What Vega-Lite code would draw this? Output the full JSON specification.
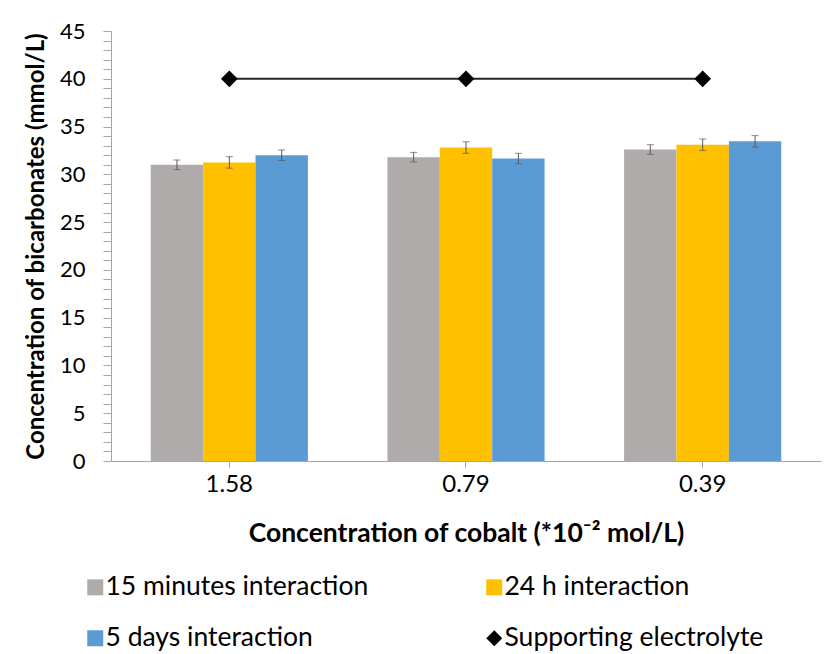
{
  "$schema": "https://vega.github.io/schema/vega-lite/v6.json",
  "width": 710,
  "height": 430,
  "autosize": {"type": "none"},
  "padding": {"left": 111, "top": 31, "right": 18, "bottom": 193},
  "background": "white",
  "config": {"view": {"stroke": null}, "font": "Lato"},
  "datasets": {
    "bars": [
      {"conc": "1.58", "series": "15 minutes interaction", "value": 31.0, "lo": 30.5, "hi": 31.5},
      {"conc": "1.58", "series": "24 h interaction", "value": 31.25, "lo": 30.65, "hi": 31.85},
      {"conc": "1.58", "series": "5 days interaction", "value": 32.0, "lo": 31.45, "hi": 32.55},
      {"conc": "0.79", "series": "15 minutes interaction", "value": 31.8, "lo": 31.3, "hi": 32.3},
      {"conc": "0.79", "series": "24 h interaction", "value": 32.8, "lo": 32.2, "hi": 33.4},
      {"conc": "0.79", "series": "5 days interaction", "value": 31.65, "lo": 31.1, "hi": 32.2},
      {"conc": "0.39", "series": "15 minutes interaction", "value": 32.6, "lo": 32.1, "hi": 33.1},
      {"conc": "0.39", "series": "24 h interaction", "value": 33.1, "lo": 32.5, "hi": 33.7},
      {"conc": "0.39", "series": "5 days interaction", "value": 33.45, "lo": 32.85, "hi": 34.05}
    ],
    "electrolyte": [
      {"conc": "1.58", "series": "Supporting electrolyte", "value": 40},
      {"conc": "0.79", "series": "Supporting electrolyte", "value": 40},
      {"conc": "0.39", "series": "Supporting electrolyte", "value": 40}
    ]
  },
  "encoding": {
    "x": {
      "field": "conc",
      "type": "nominal",
      "sort": ["1.58", "0.79", "0.39"],
      "scale": {"paddingInner": 0.336, "paddingOuter": 0.168},
      "axis": {
        "title": "Concentration of cobalt (*10⁻² mol/L)",
        "titleFont": "Lato",
        "titleFontSize": 26.5,
        "titleFontWeight": "bold",
        "titleColor": "#000000",
        "titlePadding": 24,
        "labelAngle": 0,
        "labelFont": "Lato",
        "labelFontSize": 24,
        "labelColor": "#000000",
        "labelPadding": 5,
        "tickSize": 6,
        "tickColor": "#A6A6A6",
        "domainColor": "#A6A6A6",
        "grid": false
      }
    }
  },
  "layer": [
    {
      "data": {"name": "bars"},
      "mark": {"type": "bar"},
      "encoding": {
        "xOffset": {
          "field": "series",
          "type": "nominal",
          "sort": ["15 minutes interaction", "24 h interaction", "5 days interaction"],
          "scale": {"domain": ["15 minutes interaction", "24 h interaction", "5 days interaction"], "paddingInner": 0, "paddingOuter": 0}
        },
        "y": {
          "field": "value",
          "type": "quantitative",
          "scale": {"domain": [0, 45], "nice": false},
          "axis": {
            "values": [0,1,2,3,4,5,6,7,8,9,10,11,12,13,14,15,16,17,18,19,20,21,22,23,24,25,26,27,28,29,30,31,32,33,34,35,36,37,38,39,40,41,42,43,44,45],
            "labelExpr": "datum.value % 5 === 0 ? datum.label : ''",
            "title": "Concentration of bicarbonates (mmol/L)",
            "titleFont": "Lato",
            "titleFontSize": 24,
            "titleFontWeight": "bold",
            "titleColor": "#000000",
            "titlePadding": 11,
            "labelFont": "Lato",
            "labelFontSize": 22,
            "labelColor": "#000000",
            "labelPadding": 18,
            "labelOverlap": false,
            "tickSize": 8,
            "tickColor": "#A6A6A6",
            "domainColor": "#A6A6A6",
            "grid": false
          }
        },
        "color": {
          "field": "series",
          "type": "nominal",
          "scale": {
            "domain": ["15 minutes interaction", "24 h interaction", "5 days interaction", "Supporting electrolyte"],
            "range": ["#AFABAB", "#FFC000", "#5B9BD5", "#000000"]
          },
          "legend": {
            "title": null,
            "orient": "none",
            "direction": "horizontal",
            "legendX": -29,
            "legendY": 543,
            "columns": 2,
            "columnPadding": 112,
            "rowPadding": 24,
            "symbolSize": 256,
            "symbolStrokeWidth": 0,
            "labelFont": "Lato",
            "labelFontSize": 26.5,
            "labelColor": "#000000",
            "labelOffset": -3,
            "labelLimit": 400
          }
        }
      }
    },
    {
      "data": {"name": "bars"},
      "mark": {"type": "rule", "color": "#595959", "strokeWidth": 1},
      "encoding": {
        "xOffset": {"field": "series", "type": "nominal"},
        "y": {
          "field": "lo",
          "type": "quantitative",
          "axis": {
            "values": [0,1,2,3,4,5,6,7,8,9,10,11,12,13,14,15,16,17,18,19,20,21,22,23,24,25,26,27,28,29,30,31,32,33,34,35,36,37,38,39,40,41,42,43,44,45],
            "labelExpr": "datum.value % 5 === 0 ? datum.label : ''",
            "title": "Concentration of bicarbonates (mmol/L)",
            "titleFont": "Lato",
            "titleFontSize": 24,
            "titleFontWeight": "bold",
            "titleColor": "#000000",
            "titlePadding": 11,
            "labelFont": "Lato",
            "labelFontSize": 22,
            "labelColor": "#000000",
            "labelPadding": 18,
            "labelOverlap": false,
            "tickSize": 8,
            "tickColor": "#A6A6A6",
            "domainColor": "#A6A6A6",
            "grid": false
          }
        },
        "y2": {"field": "hi"}
      }
    },
    {
      "data": {"name": "bars"},
      "mark": {"type": "tick", "color": "#595959", "size": 7, "thickness": 1},
      "encoding": {
        "xOffset": {"field": "series", "type": "nominal"},
        "y": {
          "field": "lo",
          "type": "quantitative",
          "axis": {
            "values": [0,1,2,3,4,5,6,7,8,9,10,11,12,13,14,15,16,17,18,19,20,21,22,23,24,25,26,27,28,29,30,31,32,33,34,35,36,37,38,39,40,41,42,43,44,45],
            "labelExpr": "datum.value % 5 === 0 ? datum.label : ''",
            "title": "Concentration of bicarbonates (mmol/L)",
            "titleFont": "Lato",
            "titleFontSize": 24,
            "titleFontWeight": "bold",
            "titleColor": "#000000",
            "titlePadding": 11,
            "labelFont": "Lato",
            "labelFontSize": 22,
            "labelColor": "#000000",
            "labelPadding": 18,
            "labelOverlap": false,
            "tickSize": 8,
            "tickColor": "#A6A6A6",
            "domainColor": "#A6A6A6",
            "grid": false
          }
        }
      }
    },
    {
      "data": {"name": "bars"},
      "mark": {"type": "tick", "color": "#595959", "size": 7, "thickness": 1},
      "encoding": {
        "xOffset": {"field": "series", "type": "nominal"},
        "y": {
          "field": "hi",
          "type": "quantitative",
          "axis": {
            "values": [0,1,2,3,4,5,6,7,8,9,10,11,12,13,14,15,16,17,18,19,20,21,22,23,24,25,26,27,28,29,30,31,32,33,34,35,36,37,38,39,40,41,42,43,44,45],
            "labelExpr": "datum.value % 5 === 0 ? datum.label : ''",
            "title": "Concentration of bicarbonates (mmol/L)",
            "titleFont": "Lato",
            "titleFontSize": 24,
            "titleFontWeight": "bold",
            "titleColor": "#000000",
            "titlePadding": 11,
            "labelFont": "Lato",
            "labelFontSize": 22,
            "labelColor": "#000000",
            "labelPadding": 18,
            "labelOverlap": false,
            "tickSize": 8,
            "tickColor": "#A6A6A6",
            "domainColor": "#A6A6A6",
            "grid": false
          }
        }
      }
    },
    {
      "data": {"name": "electrolyte"},
      "mark": {"type": "line", "color": "#262626", "strokeWidth": 2},
      "encoding": {
        "y": {
          "field": "value",
          "type": "quantitative",
          "axis": {
            "values": [0,1,2,3,4,5,6,7,8,9,10,11,12,13,14,15,16,17,18,19,20,21,22,23,24,25,26,27,28,29,30,31,32,33,34,35,36,37,38,39,40,41,42,43,44,45],
            "labelExpr": "datum.value % 5 === 0 ? datum.label : ''",
            "title": "Concentration of bicarbonates (mmol/L)",
            "titleFont": "Lato",
            "titleFontSize": 24,
            "titleFontWeight": "bold",
            "titleColor": "#000000",
            "titlePadding": 11,
            "labelFont": "Lato",
            "labelFontSize": 22,
            "labelColor": "#000000",
            "labelPadding": 18,
            "labelOverlap": false,
            "tickSize": 8,
            "tickColor": "#A6A6A6",
            "domainColor": "#A6A6A6",
            "grid": false
          }
        }
      }
    },
    {
      "data": {"name": "electrolyte"},
      "mark": {"type": "point", "filled": true, "size": 280, "opacity": 1},
      "encoding": {
        "y": {
          "field": "value",
          "type": "quantitative",
          "axis": {
            "values": [0,1,2,3,4,5,6,7,8,9,10,11,12,13,14,15,16,17,18,19,20,21,22,23,24,25,26,27,28,29,30,31,32,33,34,35,36,37,38,39,40,41,42,43,44,45],
            "labelExpr": "datum.value % 5 === 0 ? datum.label : ''",
            "title": "Concentration of bicarbonates (mmol/L)",
            "titleFont": "Lato",
            "titleFontSize": 24,
            "titleFontWeight": "bold",
            "titleColor": "#000000",
            "titlePadding": 11,
            "labelFont": "Lato",
            "labelFontSize": 22,
            "labelColor": "#000000",
            "labelPadding": 18,
            "labelOverlap": false,
            "tickSize": 8,
            "tickColor": "#A6A6A6",
            "domainColor": "#A6A6A6",
            "grid": false
          }
        },
        "color": {"field": "series", "type": "nominal"},
        "shape": {
          "field": "series",
          "type": "nominal",
          "scale": {
            "domain": ["15 minutes interaction", "24 h interaction", "5 days interaction", "Supporting electrolyte"],
            "range": ["square", "square", "square", "diamond"]
          },
          "legend": {
            "title": null,
            "orient": "none",
            "direction": "horizontal",
            "legendX": -29,
            "legendY": 543,
            "columns": 2,
            "columnPadding": 112,
            "rowPadding": 24,
            "symbolSize": 256,
            "symbolStrokeWidth": 0,
            "labelFont": "Lato",
            "labelFontSize": 26.5,
            "labelColor": "#000000",
            "labelOffset": -3,
            "labelLimit": 400
          }
        }
      }
    }
  ]
}
